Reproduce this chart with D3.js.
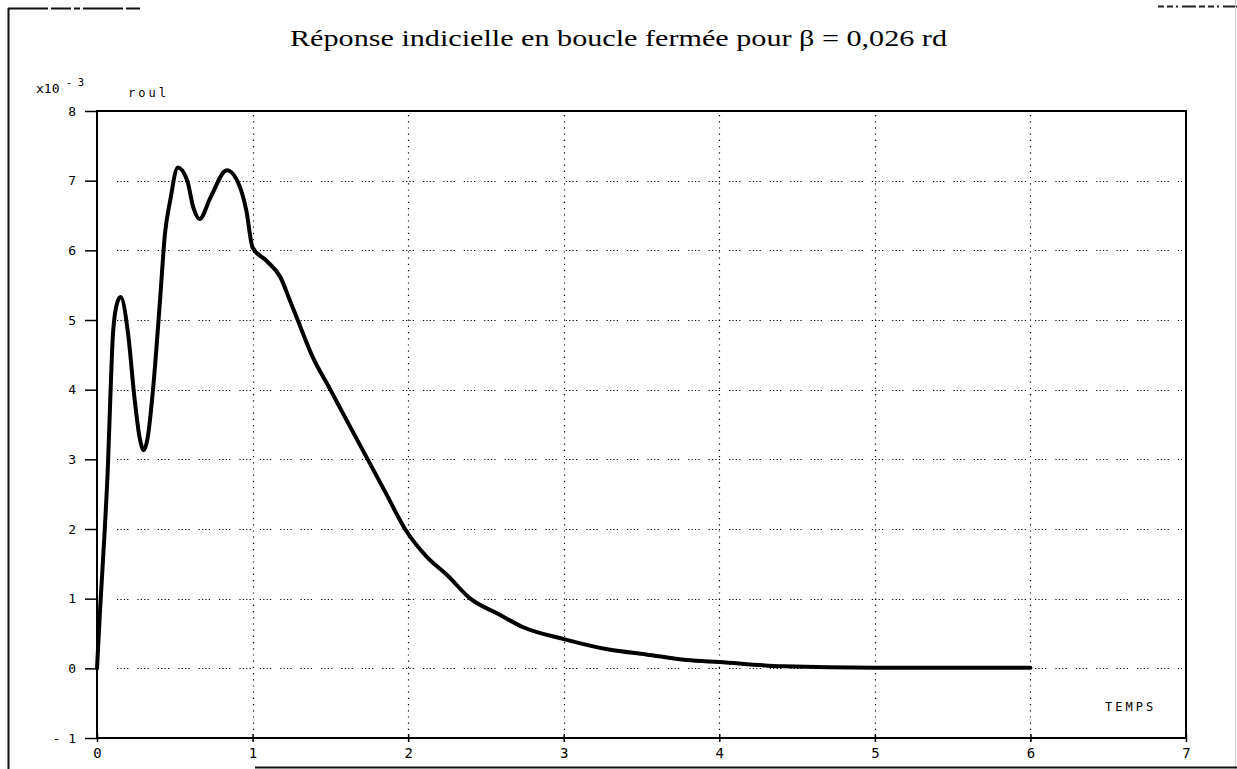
<!DOCTYPE html>
<html>
<head>
<meta charset="utf-8">
<script src="https://cdn.jsdelivr.net/npm/d3@7"></script>
<style>
  html, body { margin: 0; padding: 0; background: #fff; }
  svg { display: block; }
</style>
</head>
<body>
<svg id="chart" width="1237" height="769"></svg>
<script>
// ---- data (values in units of 1e-3) ----
const titleText = "Réponse indicielle en boucle fermée pour β = 0,026 rd";
const time = [0, 0.02, 0.05, 0.07, 0.085, 0.103, 0.13, 0.152, 0.2, 0.24, 0.275, 0.30, 0.325, 0.36, 0.405, 0.437, 0.47, 0.52, 0.58, 0.62, 0.66, 0.73, 0.835, 0.92, 0.96, 1.0, 1.09, 1.18, 1.24, 1.29, 1.38, 1.5, 1.6, 1.74, 1.86, 1.98, 2.12, 2.25, 2.4, 2.58, 2.74, 3.0, 3.29, 3.53, 3.79, 4.0, 4.41, 5.0, 5.5, 6.0];
const roul = [0, 0.85, 2.0, 2.9, 3.84, 4.81, 5.25, 5.33, 4.8, 3.9, 3.3, 3.13, 3.3, 4.0, 5.28, 6.24, 6.71, 7.19, 7.0, 6.61, 6.45, 6.76, 7.15, 6.9, 6.57, 6.04, 5.85, 5.61, 5.28, 5.0, 4.5, 4.0, 3.58, 3.0, 2.5, 2.0, 1.6, 1.34, 1.0, 0.78, 0.59, 0.42, 0.27, 0.2, 0.12, 0.09, 0.03, 0.01, 0.01, 0.01];
const xTicks = [0, 1, 2, 3, 4, 5, 6, 7];
const yTicks = [-1, 0, 1, 2, 3, 4, 5, 6, 7, 8];
const xGrid = [1, 2, 3, 4, 5, 6];
const yGrid = [0, 1, 2, 3, 4, 5, 6, 7];

const svg = d3.select("#chart");
const L = 97, R = 1186, T = 111, B = 738;
const x = d3.scaleLinear().domain([0, 7]).range([L, R]);
const y = d3.scaleLinear().domain([-1, 8]).range([B, T]);

// outer frame (scanned page border)
svg.append("line").attr("x1", 8.5).attr("x2", 8.5).attr("y1", 8).attr("y2", 769)
  .attr("stroke", "#111").attr("stroke-width", 2);
svg.append("line").attr("x1", 8).attr("x2", 140).attr("y1", 8.5).attr("y2", 8.5)
  .attr("stroke", "#111").attr("stroke-width", 2).attr("stroke-dasharray", "40,3,20,3,6,3");
svg.append("line").attr("x1", 1158).attr("x2", 1237).attr("y1", 6.5).attr("y2", 6.5)
  .attr("stroke", "#222").attr("stroke-width", 2).attr("stroke-dasharray", "6,3,6,3,2,4,14,3");
svg.append("line").attr("x1", 1235.5).attr("x2", 1235.5).attr("y1", 0).attr("y2", 769)
  .attr("stroke", "#ccc").attr("stroke-width", 1);
svg.append("line").attr("x1", 255).attr("x2", 1237).attr("y1", 767.5).attr("y2", 767.5)
  .attr("stroke", "#111").attr("stroke-width", 2);

// title
svg.append("text").attr("x", 290).attr("y", 46)
  .attr("font-family", "Liberation Serif, serif").attr("font-size", 24)
  .attr("textLength", 657).attr("lengthAdjust", "spacingAndGlyphs")
  .attr("fill", "#000").text(titleText);

// grid (dotted)
svg.append("g").selectAll("line").data(xGrid).join("line")
  .attr("x1", d => Math.round(x(d)) + 0.5).attr("x2", d => Math.round(x(d)) + 0.5)
  .attr("y1", T + 4).attr("y2", B - 4)
  .attr("stroke", "#000").attr("stroke-width", 1.2).attr("stroke-dasharray", "1.2,5");
svg.append("g").selectAll("line").data(yGrid).join("line")
  .attr("x1", L + 20).attr("x2", R - 4)
  .attr("y1", d => Math.round(y(d)) + 0.5).attr("y2", d => Math.round(y(d)) + 0.5)
  .attr("stroke", "#000").attr("stroke-width", 1.2).attr("stroke-dasharray", "1.2,2.2,1.2,2.2,1.2,2.2,1.2,9");

// plot frame
svg.append("rect").attr("x", L).attr("y", T).attr("width", R - L).attr("height", B - T)
  .attr("fill", "none").attr("stroke", "#000").attr("stroke-width", 2);

// y axis ticks + labels
const yAxis = d3.axisLeft(y).tickValues(yTicks).tickSize(12).tickPadding(9)
  .tickFormat(d => d < 0 ? "- " + Math.abs(d) : String(d));
const gy = svg.append("g").attr("transform", `translate(${L},0)`).call(yAxis);
gy.select(".domain").remove();
gy.selectAll(".tick line").attr("stroke", "#000").attr("stroke-width", 1.5);
gy.selectAll(".tick text").attr("font-family", "DejaVu Sans Mono, monospace")
  .attr("font-size", 13).attr("fill", "#000");

// x axis ticks + labels
const xAxis = d3.axisBottom(x).tickValues(xTicks).tickSize(4).tickPadding(6)
  .tickFormat(d3.format("d"));
const gx = svg.append("g").attr("transform", `translate(0,${B})`).call(xAxis);
gx.select(".domain").remove();
gx.selectAll(".tick line").attr("stroke", "#000").attr("stroke-width", 1.5).attr("y1", -4);
gx.selectAll(".tick text").attr("font-family", "DejaVu Sans Mono, monospace")
  .attr("font-size", 14).attr("fill", "#000");

// axis annotations
const ann = svg.append("g").attr("font-family", "DejaVu Sans Mono, monospace").attr("fill", "#000");
ann.append("text").attr("x", 36).attr("y", 93).attr("font-size", 13).text("x10");
ann.append("text").attr("x", 66).attr("y", 86).attr("font-size", 10).text("- 3");
ann.append("text").attr("x", 128).attr("y", 97).attr("font-size", 12).attr("letter-spacing", 3).text("roul");
ann.append("text").attr("x", 1105).attr("y", 711).attr("font-size", 12).attr("letter-spacing", 3).text("TEMPS");

// curve
const line = d3.line().x((d, i) => x(time[i])).y(d => y(d)).curve(d3.curveMonotoneX);
svg.append("path").datum(roul).attr("d", line)
  .attr("fill", "none").attr("stroke", "#000").attr("stroke-width", 4)
  .attr("stroke-linejoin", "round").attr("stroke-linecap", "round");
</script>
</body>
</html>
